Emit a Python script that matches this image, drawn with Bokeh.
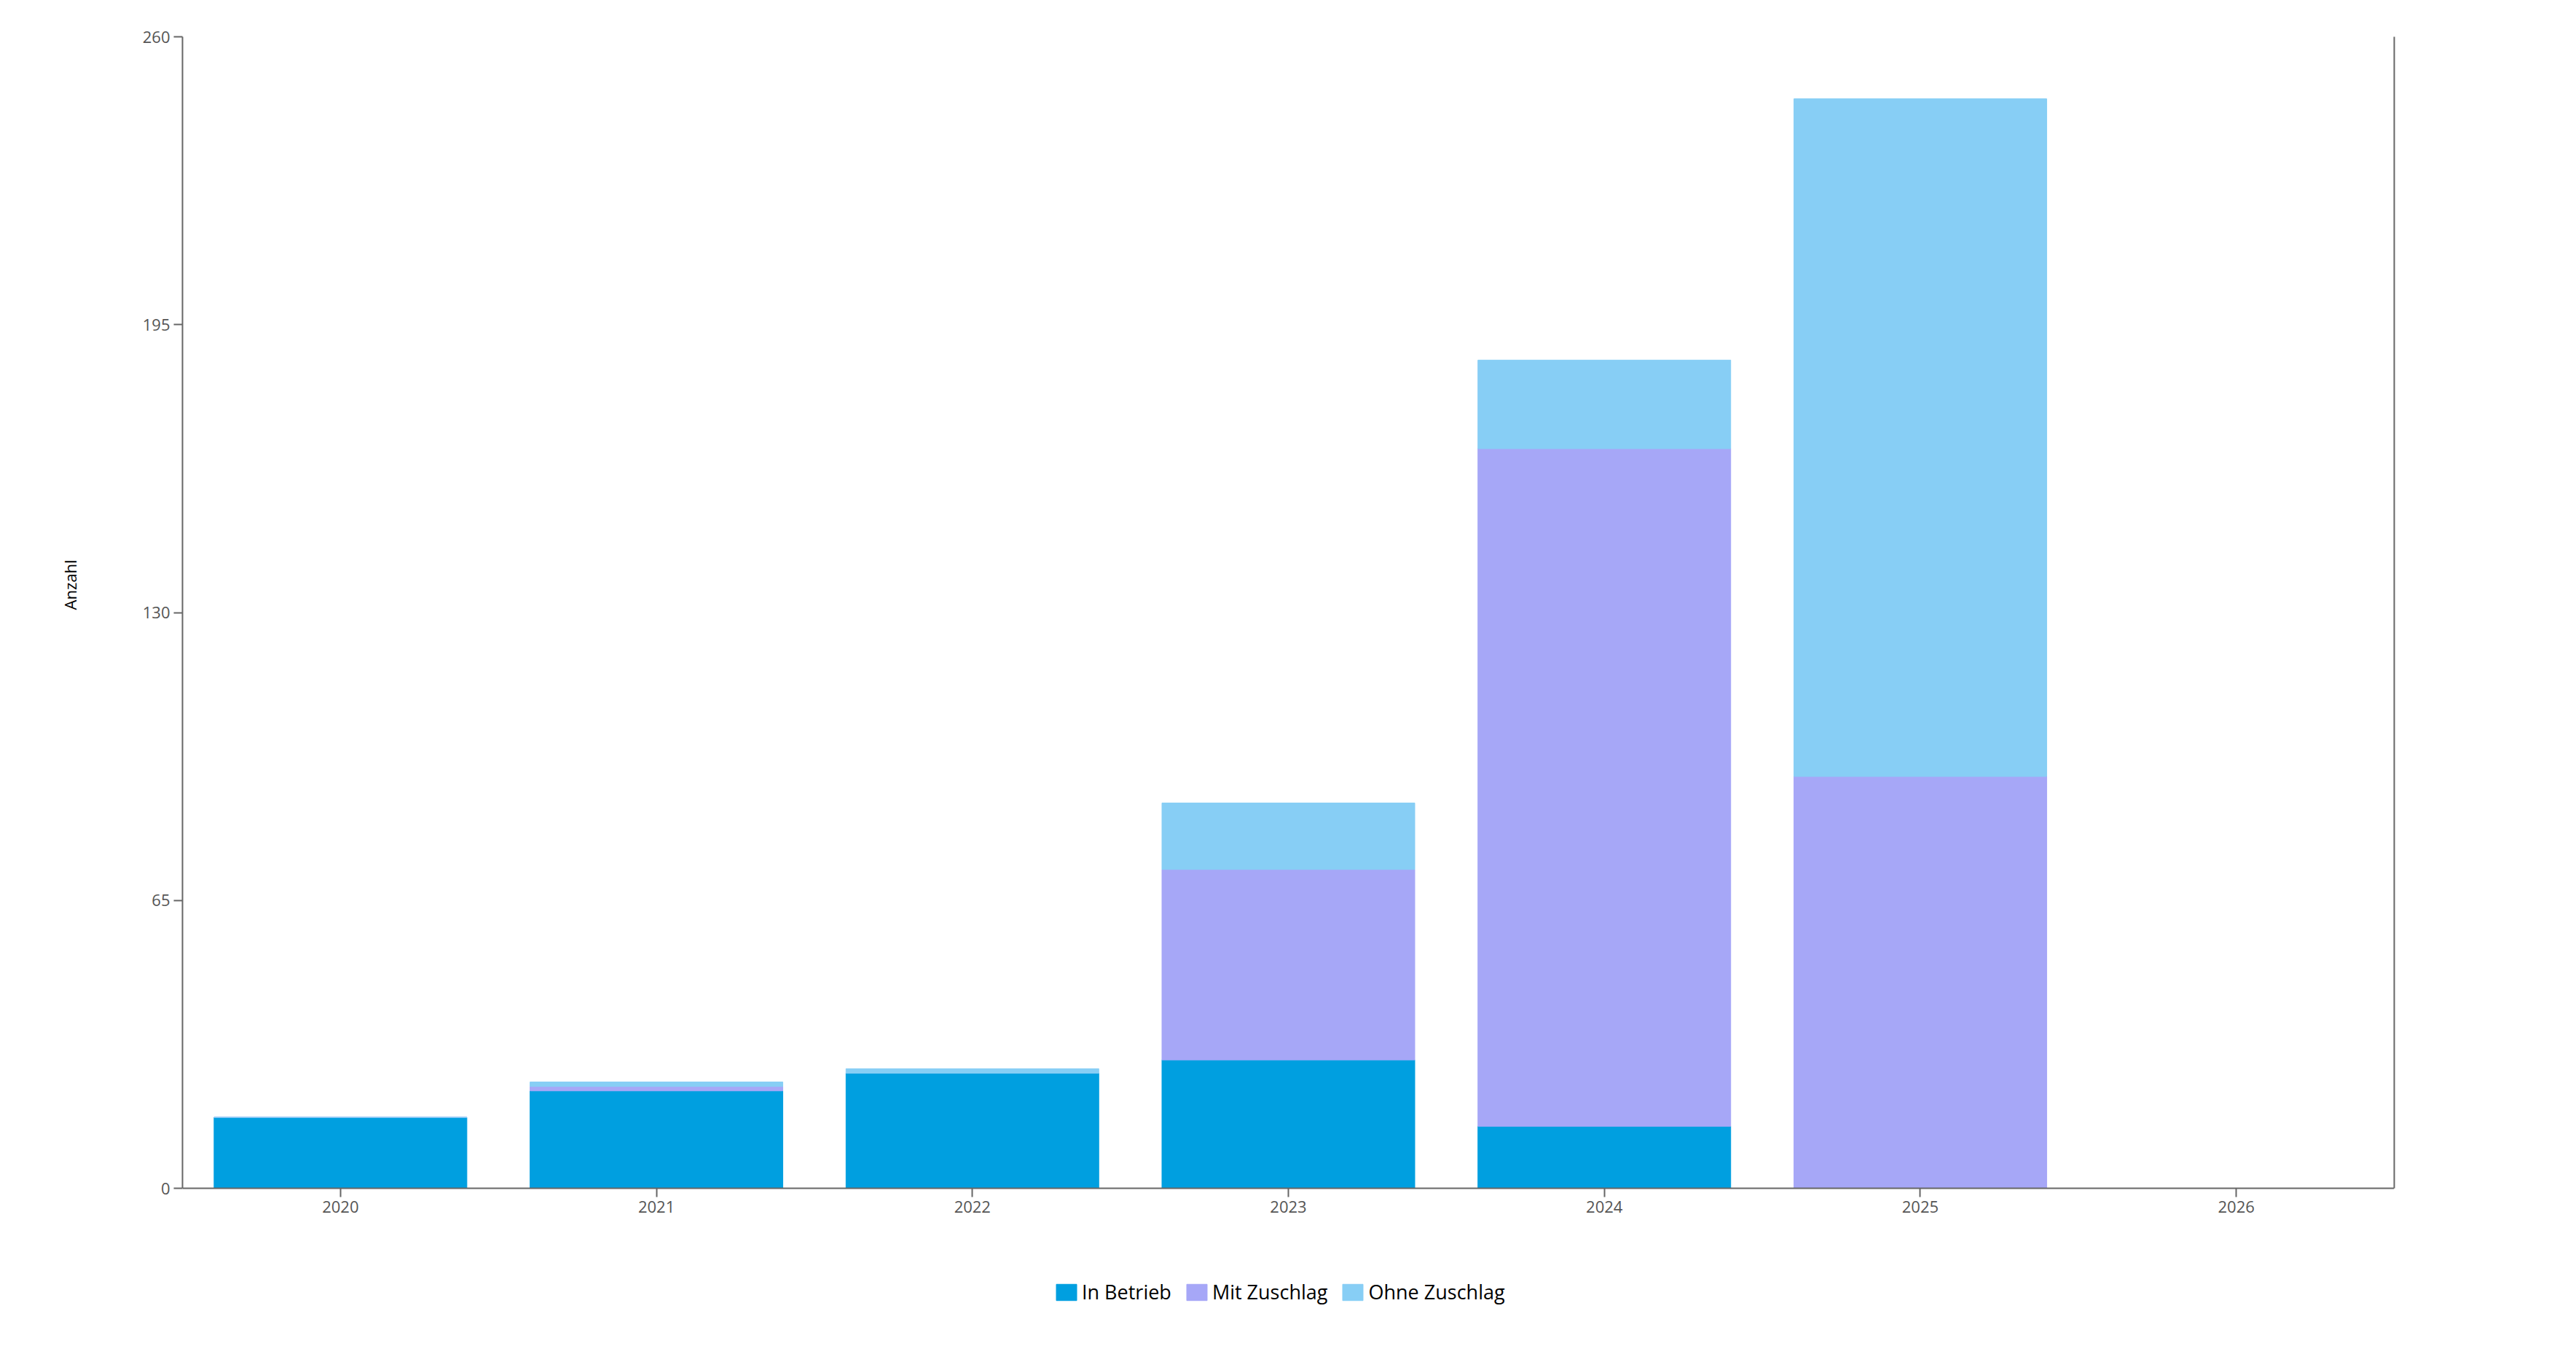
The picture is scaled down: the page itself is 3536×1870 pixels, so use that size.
from bokeh.plotting import figure
from bokeh.models import (ColumnDataSource, FactorRange, Range1d, FixedTicker,
                          LinearAxis, Legend, LegendItem, Title)
from bokeh.embed import file_html
from bokeh.resources import INLINE

# ---- data ----
years = ["2020", "2021", "2022", "2023", "2024", "2025", "2026"]
in_betrieb = [16, 22, 26, 29, 14, 0, 0]
mit_zuschlag = [0, 1, 0, 43, 153, 93, 0]
ohne_zuschlag = [0, 1, 1, 15, 20, 153, 0]
series_labels = ["In Betrieb", "Mit Zuschlag", "Ohne Zuschlag"]
y_ticks = [0, 65, 130, 195, 260]
y_max = 260
y_title = "Anzahl"

colors = ["#009FE0", "#A6A7F7", "#87CEF5"]
FONT = "Open Sans"

# layout (pixels)
W, H = 3520, 1854
TOP, LEFT, RIGHT = 50, 249, 234
AXIS_H = 1581                      # pixel height of the 0..260 span
BELOW = H - TOP - AXIS_H           # room below the zero line (axis labels + legend)
y_min = -BELOW * y_max / AXIS_H

src = ColumnDataSource(dict(year=years, ib=in_betrieb, mz=mit_zuschlag, oz=ohne_zuschlag))

p = figure(x_range=FactorRange(*years), y_range=Range1d(y_min, y_max),
           width=W, height=H, output_backend="svg", toolbar_location=None,
           min_border_left=LEFT, min_border_right=RIGHT, min_border_top=TOP, min_border_bottom=0,
           background_fill_color="white", border_fill_color="white")
p.outline_line_color = None
p.x_range.range_padding = 0

rs = p.vbar_stack(["ib", "mz", "oz"], x="year", width=0.8, source=src,
                  fill_color=colors, line_color=colors, line_width=1)

# axes styling
for ax in (p.xaxis[0], p.yaxis[0]):
    ax.axis_line_color = "#666666"
    ax.axis_line_width = 2
    ax.major_tick_line_color = "#666666"
    ax.major_tick_line_width = 2
    ax.major_tick_out = 12
    ax.major_tick_in = 0
    ax.minor_tick_out = 0
    ax.minor_tick_in = 0
    ax.major_label_text_font = FONT
    ax.major_label_text_font_size = "22px"
    ax.major_label_text_color = "#555555"
    ax.major_label_standoff = 5

p.xaxis[0].fixed_location = 0

p.yaxis[0].ticker = FixedTicker(ticks=y_ticks)
p.yaxis[0].bounds = (0, y_max)

ytitle = Title(text=y_title, align="right", vertical_align="top", offset=718, standoff=160,
               text_font=FONT, text_font_size="22px", text_font_style="normal",
               text_color="#000000")
p.add_layout(ytitle, "left")

right = LinearAxis(ticker=FixedTicker(ticks=[]), bounds=(0, y_max),
                   axis_line_color="#666666", axis_line_width=2,
                   major_tick_out=0, minor_tick_out=0)
p.add_layout(right, "right")

p.xgrid.grid_line_color = None
p.ygrid.ticker = FixedTicker(ticks=[y_max])
p.ygrid.grid_line_color = "#EFEFEF"
p.ygrid.grid_line_width = 2

legend = Legend(items=[LegendItem(label=l, renderers=[r]) for l, r in zip(series_labels, rs)],
                orientation="horizontal", location=(1196, 62),
                label_text_font=FONT, label_text_font_size="27px", label_text_color="#000000",
                glyph_width=35, glyph_height=28, label_standoff=4, spacing=17,
                padding=5, margin=0, border_line_color=None, background_fill_alpha=0)
p.add_layout(legend, "center")

open("out.html", "w").write(file_html(p, INLINE))
